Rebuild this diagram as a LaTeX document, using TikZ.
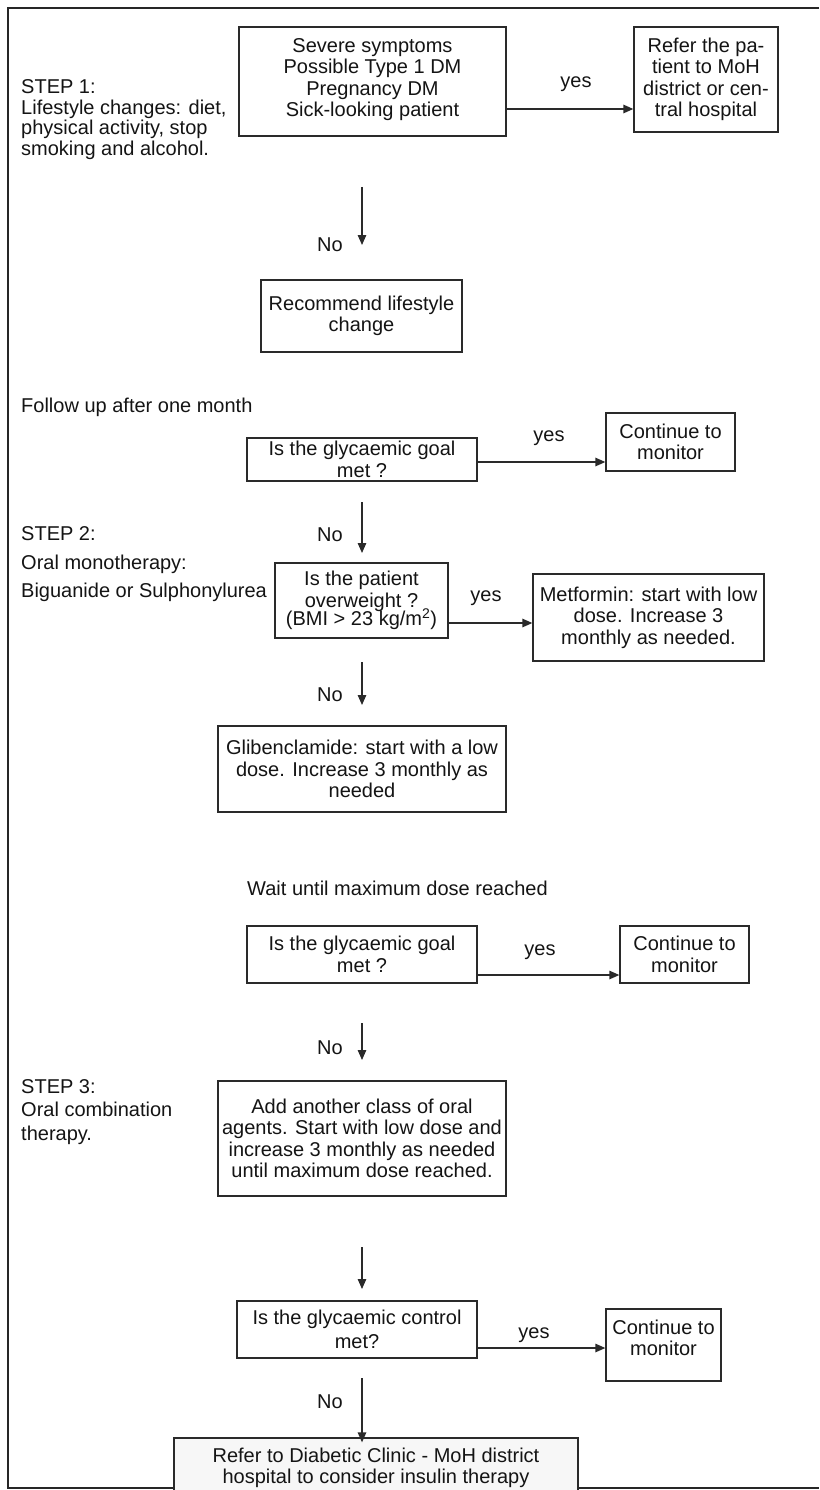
\documentclass[tikz,border=0pt]{standalone}
\usepackage{fontspec}
\setmainfont{Liberation Sans}
\usetikzlibrary{arrows.meta,calc}
\definecolor{linec}{HTML}{2a2a2a}
\definecolor{textc}{HTML}{141414}
\begin{document}
\begin{tikzpicture}[x=1pt,y=-1pt,
  every node/.style={text=textc, font=\fontsize{20}{21.5}\selectfont, inner sep=0pt},
  box/.style={draw=linec, line width=1.3pt, fill=white, align=center, minimum width=#1},
  lefttxt/.style={anchor=west, align=left},
  arrow/.style={draw=linec, line width=1.3pt, -{Triangle[length=10pt,width=8.5pt]}},
  frameline/.style={draw=black!85, line width=1.4pt}
]
\useasboundingbox (0,0) rectangle (819,1490);
% frame
\draw[frameline] (819,8) -- (8,8) -- (8,1488) -- (819,1488);

% left column texts
\node[lefttxt, font=\fontsize{20}{20.8}\selectfont] (s1) at (21,119.5) {STEP 1:\\Lifestyle changes: diet,\\physical activity, stop\\smoking and alcohol.};
\node[lefttxt] (fu) at (21,407) {Follow up after one month};
\node[lefttxt, font=\fontsize{20}{28.5}\selectfont] (s2) at (21,564.5) {STEP 2:\\Oral monotherapy:\\Biguanide or Sulphonylurea};
\node[lefttxt, font=\fontsize{20}{23.5}\selectfont] (s3) at (21,1112) {STEP 3:\\Oral combination\\therapy.};
\node[lefttxt] (wait) at (247,888) {Wait until maximum dose reached};

% boxes
\node[box=267pt, minimum height=109pt] (b1) at (372.5,81.5) {Severe symptoms\\Possible Type 1 DM\\Pregnancy DM\\Sick-looking patient\\[-13.5pt]};
\node[box=144pt, minimum height=105pt] (b2) at (706,79.5) {Refer the pa-\\tient to MoH\\district or cen-\\tral hospital};
\node[box=201pt, minimum height=72pt] (b3) at (361.5,316) {Recommend lifestyle\\change};
\node[box=230pt, minimum height=43pt] (b4) at (362,459.5) {Is the glycaemic goal\\met ?};
\node[box=129pt, minimum height=58pt] (b5) at (670.5,442) {Continue to\\monitor};
\node[box=173pt, minimum height=75pt] (b6) at (361.5,600.5) {Is the patient\\overweight ?\\[-3pt](BMI > 23 kg/m\textsuperscript{2})};
\node[box=231pt, minimum height=87pt] (b7) at (648.5,617.5) {Metformin: start with low\\dose. Increase 3\\monthly as needed.};
\node[box=288pt, minimum height=86pt] (b8) at (362,769) {Glibenclamide: start with a low\\dose. Increase 3 monthly as\\needed};
\node[box=230pt, minimum height=57pt] (b9) at (362,954.5) {Is the glycaemic goal\\met ?};
\node[box=129pt, minimum height=57pt] (b10) at (684.5,954.5) {Continue to\\monitor};
\node[box=288pt, minimum height=115pt] (b11) at (362,1138.5) {Add another class of oral\\agents. Start with low dose and\\increase 3 monthly as needed\\until maximum dose reached.};
\node[box=240pt, minimum height=57pt, font=\fontsize{20}{24}\selectfont] (b12) at (357,1329.5) {Is the glycaemic control\\met?};
\node[box=115pt, minimum height=72pt] (b13) at (663.5,1345) {Continue to\\monitor\\[-6.5pt]};
\node[box=404pt, minimum height=60pt, fill=black!3] (b14) at (376,1468) {Refer to Diabetic Clinic - MoH district\\hospital to consider insulin therapy};

% yes arrows
\path ([yshift=-27.5pt]b1.east) coordinate (y1);
\draw[arrow] (y1) -- (y1 -| b2.west);
\node (yes1) at (576,84) {yes};

\path ([yshift=-2.5pt]b4.east) coordinate (y2);
\draw[arrow] (y2) -- (y2 -| b5.west);
\node (yes2) at (549,438) {yes};

\path ([yshift=-22.5pt]b6.east) coordinate (y3);
\draw[arrow] (y3) -- (y3 -| b7.west);
\node (yes3) at (486,598) {yes};

\path ([yshift=-20.5pt]b9.east) coordinate (y4);
\draw[arrow] (y4) -- (y4 -| b10.west);
\node (yes4) at (540,952) {yes};

\path ([yshift=-18.5pt]b12.east) coordinate (y5);
\draw[arrow] (y5) -- (y5 -| b13.west);
\node (yes5) at (534,1335) {yes};

% down arrows
\coordinate (a1s) at (362,187); \coordinate (a1e) at (362,245);
\draw[arrow] (a1s) -- (a1e);
\node (no1) at (330,245) {No};

\coordinate (a2s) at (362,502); \coordinate (a2e) at (362,553);
\draw[arrow] (a2s) -- (a2e);
\node (no2) at (330,535) {No};

\coordinate (a3s) at (362,662); \coordinate (a3e) at (362,705);
\draw[arrow] (a3s) -- (a3e);
\node (no3) at (330,695) {No};

\coordinate (a4s) at (362,1023); \coordinate (a4e) at (362,1060);
\draw[arrow] (a4s) -- (a4e);
\node (no4) at (330,1048) {No};

\coordinate (a5s) at (362,1247); \coordinate (a5e) at (362,1289);
\draw[arrow] (a5s) -- (a5e);

\coordinate (a6s) at (362,1378);
\draw[arrow, shorten >=-5pt] (a6s) -- (a6s |- b14.north);
\node (no6) at (330,1402) {No};
\end{tikzpicture}
\end{document}
